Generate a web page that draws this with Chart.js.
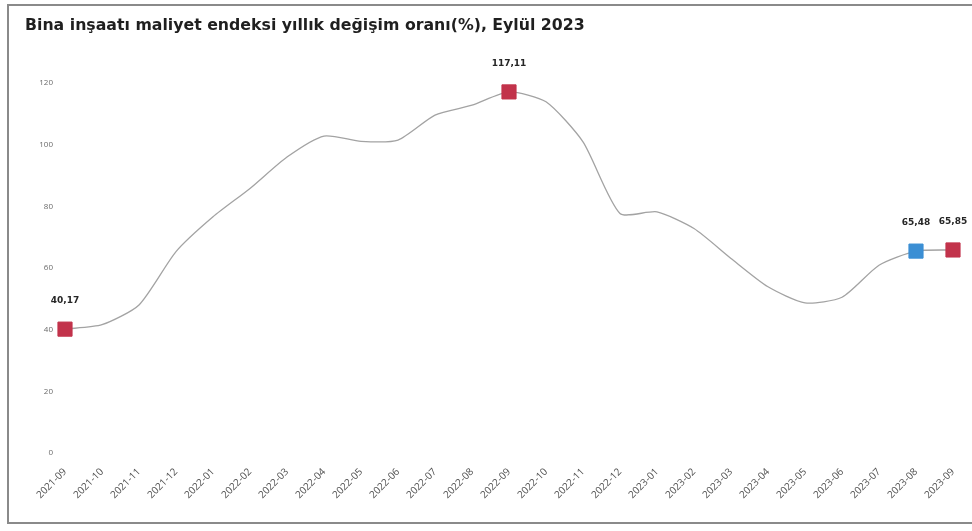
<!DOCTYPE html>
<html>
<head>
<meta charset="utf-8">
<script src="https://cdn.jsdelivr.net/npm/chart.js@4/dist/chart.umd.min.js"></script>
<style>
  html, body { margin: 0; padding: 0; background: #fff; }
  #wrap { position: relative; width: 972px; height: 531px; }
  #frame { position: absolute; left: 7px; top: 4px; width: 970px; height: 520px;
           border-left: 2px solid #8a8a8a; border-top: 2px solid #8a8a8a; border-bottom: 2px solid #8a8a8a; box-sizing: border-box; }
  canvas { position: absolute; left: 0; top: 0; }
</style>
</head>
<body>
<div id="wrap">
  <div id="frame"></div>
  <canvas id="c" width="972" height="531"></canvas>
</div>
<script>
const titleText = "Bina inşaatı maliyet endeksi yıllık değişim oranı(%), Eylül 2023";

const categories = [
  "2021-09","2021-10","2021-11","2021-12","2022-01","2022-02","2022-03","2022-04",
  "2022-05","2022-06","2022-07","2022-08","2022-09","2022-10","2022-11","2022-12",
  "2023-01","2023-02","2023-03","2023-04","2023-05","2023-06","2023-07","2023-08","2023-09"
];

const annualChange = [
  40.17, 41.6, 48.0, 65.3, 76.6, 85.8, 96.0, 102.8,
  101.1, 101.5, 109.6, 112.8, 117.11, 113.9, 100.9, 77.7,
  78.2, 72.8, 63.1, 53.9, 48.7, 50.5, 60.9, 65.48, 65.85
];

// indices that carry a marker + value label, and their colours
const highlightIndex = [0, 12, 23, 24];
const highlightColor = ["#c2334b", "#c2334b", "#3b8fd4", "#c2334b"];
const highlightLabel = ["40,17", "117,11", "65,48", "65,85"];

const yTicks = [0, 20, 40, 60, 80, 100, 120];

const pointRadius = annualChange.map((v, i) => highlightIndex.includes(i) ? 10 : 0);
const pointColor = annualChange.map((v, i) => {
  const k = highlightIndex.indexOf(i);
  return k >= 0 ? highlightColor[k] : "#8c8c8c";
});

const overlay = {
  id: "overlay",
  afterDatasetsDraw(chart) {
    const ctx = chart.ctx;
    ctx.save();
    ctx.fillStyle = "#1f1f1f";
    ctx.font = "bold 14px 'DejaVu Sans', sans-serif";
    const w = ctx.measureText(titleText).width;
    const size = Math.min(16, 14 * 560 / w);
    ctx.font = "bold " + size.toFixed(2) + "px 'DejaVu Sans', sans-serif";
    ctx.textAlign = "left";
    ctx.textBaseline = "middle";
    ctx.fillText(titleText, 25, 26);

    const meta = chart.getDatasetMeta(0);
    ctx.font = "bold 9px 'DejaVu Sans', sans-serif";
    ctx.textAlign = "center";
    ctx.fillStyle = "#262626";
    highlightIndex.forEach((idx, k) => {
      const p = meta.data[idx];
      ctx.fillText(highlightLabel[k], p.x, p.y - 28);
    });
    ctx.restore();
  }
};

new Chart(document.getElementById("c"), {
  type: "line",
  data: {
    labels: categories,
    datasets: [{
      data: annualChange,
      borderColor: "#a3a3a3",
      borderWidth: 1.3,
      tension: 0.22,
      pointStyle: "rect",
      pointRadius: pointRadius,
      pointHoverRadius: pointRadius,
      pointBackgroundColor: pointColor,
      pointBorderColor: pointColor,
      pointBorderWidth: 1
    }]
  },
  options: {
    responsive: false,
    animation: false,
    events: [],
    layout: { padding: { left: 25, right: 19, top: 83, bottom: 8 } },
    plugins: { legend: { display: false }, tooltip: { enabled: false }, title: { display: false } },
    scales: {
      x: {
        offset: false,
        grid: { display: false, drawTicks: false },
        border: { display: false },
        ticks: {
          autoSkip: false, minRotation: 45, maxRotation: 45, padding: 13,
          color: "#505050",
          font: { size: 10, family: "'Open Sans', 'DejaVu Sans', sans-serif" }
        },
        afterFit(scale) { scale.height = 70; scale.paddingLeft = 0; scale.paddingRight = 0; }
      },
      y: {
        min: 0, max: 120,
        grid: { display: false, drawTicks: false },
        border: { display: false },
        afterBuildTicks(scale) { scale.ticks = yTicks.map(v => ({ value: v })); },
        ticks: {
          padding: 12, color: "#6a6a6a",
          font: { size: 8, family: "'Open Sans', 'DejaVu Sans', sans-serif" }
        },
        afterFit(scale) { scale.width = 40; scale.paddingTop = 0; scale.paddingBottom = 0; }
      }
    }
  },
  plugins: [overlay]
});
</script>
</body>
</html>
